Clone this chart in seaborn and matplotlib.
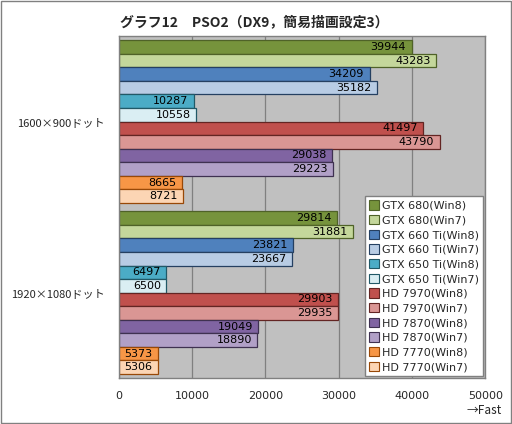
import numpy as np
import pandas as pd
import matplotlib
matplotlib.use("Agg")
import matplotlib.pyplot as plt
import seaborn as sns

resolutions = ["1600×900ドット", "1920×1080ドット"]
cards = ["GTX 680(Win8)", "GTX 680(Win7)", "GTX 660 Ti(Win8)", "GTX 660 Ti(Win7)",
         "GTX 650 Ti(Win8)", "GTX 650 Ti(Win7)", "HD 7970(Win8)", "HD 7970(Win7)",
         "HD 7870(Win8)", "HD 7870(Win7)", "HD 7770(Win8)", "HD 7770(Win7)"]
scores_1600 = [39944, 43283, 34209, 35182, 10287, 10558, 41497, 43790, 29038, 29223, 8665, 8721]
scores_1920 = [29814, 31881, 23821, 23667, 6497, 6500, 29903, 29935, 19049, 18890, 5373, 5306]
xticks = [0, 10000, 20000, 30000, 40000, 50000]

fill_colors = ["#76933c", "#c4d79b", "#4f81bd", "#b8cce4", "#4bacc6", "#daeef3",
               "#c0504d", "#da9694", "#8064a2", "#b1a0c7", "#f79646", "#fcd5b4"]
edge_colors = ["#4f6228", "#4f6228", "#254061", "#254061", "#215967", "#215967",
               "#632523", "#632523", "#3f3151", "#3f3151", "#984807", "#984807"]

rows = []
for res, vals in zip(resolutions, [scores_1600, scores_1920]):
    for c, v in zip(cards, vals):
        rows.append({"res": res, "card": c, "score": v})
df = pd.DataFrame(rows)

sns.set_theme(style="white")
plt.rcParams['font.family'] = ['Noto Sans CJK JP', 'DejaVu Sans']

fig = plt.figure(figsize=(5.12, 4.24), dpi=100)
fig.patch.set_facecolor("white")
ax = fig.add_axes([0.232, 0.108, 0.716, 0.807])
ax.set_facecolor("#c0c0c0")

sns.barplot(data=df, y="res", x="score", hue="card", order=resolutions,
            hue_order=cards, palette=fill_colors, orient="h", width=0.95,
            ax=ax, legend=True, saturation=1)

for i, cont in enumerate(ax.containers):
    for bar in cont:
        bar.set_edgecolor(edge_colors[i])
        bar.set_linewidth(0.9)
        w = bar.get_width()
        ax.annotate(f"{int(w)}", xy=(w, bar.get_y() + bar.get_height() / 2),
                    xytext=(-4, 0), textcoords="offset points", ha="right",
                    va="center", fontsize=8, color="black", family="DejaVu Sans")

ax.set_xlim(0, 50000)
ax.set_xticks(xticks)
ax.set_xticklabels([str(t) for t in xticks], fontsize=8, family="DejaVu Sans")
ax.tick_params(axis="x", length=0, pad=9)
ax.tick_params(axis="y", length=0, pad=10, labelsize=8)
ax.set_xlabel("")
ax.set_ylabel("")
ax.grid(axis="x", color="#808080", linewidth=0.9)
ax.set_axisbelow(True)
for s in ax.spines.values():
    s.set_color("#808080")
    s.set_linewidth(1)

leg = ax.legend(loc="lower right", bbox_to_anchor=(1.0, 0.0), borderaxespad=0.2,
                frameon=True, fancybox=False, handlelength=0.9, handleheight=0.9,
                handletextpad=0.3, labelspacing=0.38, borderpad=0.35,
                prop={"family": "DejaVu Sans", "size": 8})
leg.get_frame().set_edgecolor("#808080")
leg.get_frame().set_facecolor("white")
leg.get_frame().set_alpha(1)
for h, ec in zip(leg.legend_handles, edge_colors):
    h.set_edgecolor(ec)
    h.set_linewidth(0.8)

fig.text(0.497, 0.948, "グラフ12　PSO2（DX9，簡易描画設定3）", ha="center", va="center",
         fontsize=10, fontweight="bold")
fig.text(0.98, 0.032, "→Fast", ha="right", va="center", fontsize=8.5)

border = plt.Rectangle((0.002, 0.002), 0.996, 0.996, transform=fig.transFigure,
                       fill=False, edgecolor="#808080", linewidth=1)
fig.patches.append(border)

fig.savefig("out.png", dpi=100)
